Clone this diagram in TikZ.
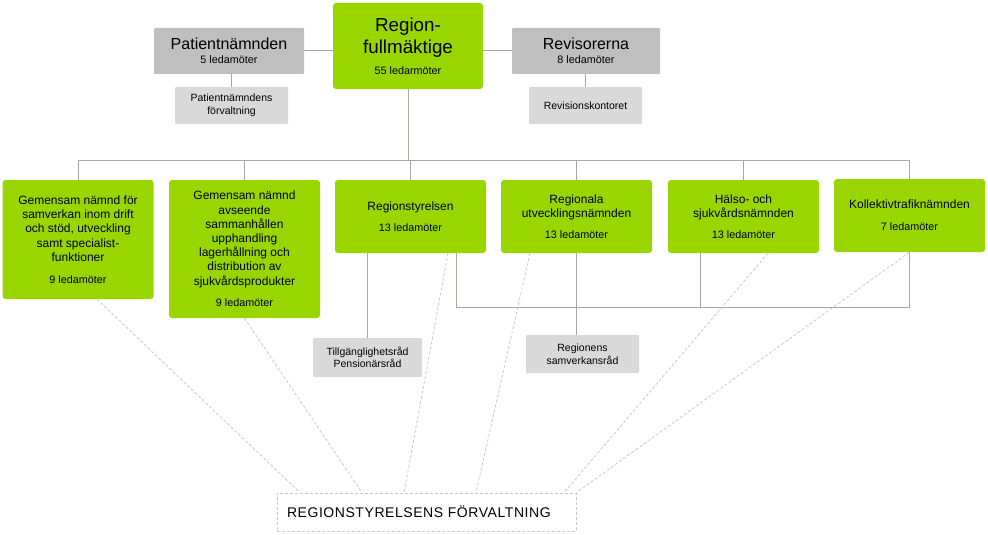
\documentclass[tikz,border=0pt]{standalone}
\usepackage{fontspec}
\setmainfont{Liberation Sans}
\usetikzlibrary{positioning}

\definecolor{lime}{RGB}{153,214,0}
\definecolor{headgray}{RGB}{191,191,191}
\definecolor{officegray}{RGB}{217,217,217}
\definecolor{linegray}{RGB}{172,166,162}
\definecolor{dashgray}{RGB}{200,200,200}

\newcommand{\memb}[1]{{\fontsize{10.8}{12}\selectfont #1}}

\begin{document}
\begin{tikzpicture}[
    x=1pt, y=-1pt,
    box/.style={
        rectangle,
        rounded corners=3pt,
        inner sep=2pt,
        text centered,
        align=center
    },
    council/.style={box, fill=lime, minimum width=151pt,
        font=\fontsize{12}{14.2}\selectfont},
    head/.style={box, fill=headgray, minimum width=150pt, minimum height=46pt,
        rounded corners=1pt, font=\fontsize{16}{18}\selectfont},
    office/.style={box, fill=officegray, minimum width=113pt, minimum height=37pt,
        rounded corners=1pt, font=\fontsize{10.5}{12.5}\selectfont},
    link/.style={draw=linegray, line width=1pt},
    dashlink/.style={draw=dashgray, dash pattern=on 3pt off 2pt, line width=0.8pt}
]
\useasboundingbox (0,0) rectangle (988,535);

% Top level
\node[box, fill=lime, minimum width=150pt, minimum height=86pt,
      font=\fontsize{18.8}{22}\selectfont] (rf) at (408,46)
    {Region-\\fullmäktige\\[-1.5pt]\memb{55 ledarmöter}};
\node[head] (pn)  at (229,51) {Patientnämnden\\[-4.5pt]\memb{5 ledamöter}};
\node[head, minimum width=148pt] (rev) at (586,51) {Revisorerna\\[-4.5pt]\memb{8 ledamöter}};
\node[office] (pnf) at (231.5,105.5) {Patientnämndens\\förvaltning};
\node[office] (rk)  at (585.5,105.5) {Revisionskontoret};

% Nämnder
\node[council, minimum height=119pt] (b1) at (78,239.5)
    {Gemensam nämnd för\\samverkan inom drift\\och stöd, utveckling\\samt specialist-\\funktioner\\[7.5pt]\memb{9 ledamöter}};
\node[council, minimum height=138pt] (b2) at (244.5,249)
    {Gemensam nämnd\\avseende\\sammanhållen\\upphandling\\lagerhållning och\\distribution av\\sjukvårdsprodukter\\[7.5pt]\memb{9 ledamöter}};
\node[council, minimum height=73pt] (b3) at (410.5,216.5)
    {Regionstyrelsen\\[7pt]\memb{13 ledamöter}};
\node[council, minimum height=73pt] (b4) at (576.5,216.5)
    {Regionala\\utvecklingsnämnden\\[7pt]\memb{13 ledamöter}};
\node[council, minimum height=73pt] (b5) at (743.5,216.5)
    {Hälso- och\\sjukvårdsnämnden\\[7pt]\memb{13 ledamöter}};
\node[council, minimum height=73pt] (b6) at (909.5,215.5)
    {Kollektivtrafiknämnden\\[8pt]\memb{7 ledamöter}};

% Råd
\node[office, minimum width=109pt, minimum height=39pt] (tr) at (367.5,357.5)
    {Tillgänglighetsråd\\Pensionärsråd};
\node[office, minimum height=38pt] (rsr) at (582.5,354)
    {Regionens\\samverkansråd};

\node[draw=dashgray, dash pattern=on 3pt off 2pt, line width=0.8pt,
      minimum height=38pt, text width=279pt, inner xsep=10pt, align=left,
      font=\fontsize{14}{16}\selectfont\addfontfeature{LetterSpace=4}] (rsforv) at (426.5,512)
    {REGIONSTYRELSENS FÖRVALTNING};

\coordinate (bus) at (408,160);
\coordinate (rsbus) at (456,307);

% Lines
\draw[link] (pn.east) -- (pn.east -| rf.west);
\draw[link] (rf.east |- rev.west) -- (rev.west);
\draw[link] (pnf.north) -- (pnf.north |- pn.south);
\draw[link] (rk.north) -- (rk.north |- rev.south);
\draw[link] (rf.south) -- (rf.south |- bus);
\draw[link] (b1.north |- bus) -- (b6.north |- bus);
\foreach \i in {1,...,6}
    \draw[link] (b\i.north) -- (b\i.north |- bus);

\draw[link] ([xshift=45.5pt]b3.south) |- (b6.south |- rsbus) -- (b6.south);
\draw[link] ([xshift=-43.5pt]b5.south) -- ([xshift=-43.5pt]b5.south |- rsbus);
\draw[link] (b4.south) -- (b4.south |- rsr.north);
\draw[link] (tr.north) -- (tr.north |- b3.south);

% Förvaltning
\draw[dashlink] ([xshift=19pt]b1.south) -- ([xshift=-126.5pt]rsforv.north);
\draw[dashlink] (b2.south) -- ([xshift=-64.5pt]rsforv.north);
\draw[dashlink] ([xshift=37.5pt]b3.south) -- ([xshift=-22.5pt]rsforv.north);
\draw[dashlink] ([xshift=-46.5pt]b4.south) -- ([xshift=49.5pt]rsforv.north);
\draw[dashlink] ([xshift=24.5pt]b5.south) -- ([xshift=137.5pt]rsforv.north);
\draw[dashlink] (b6.south) -- (rsforv.north east);

\end{tikzpicture}
\end{document}
